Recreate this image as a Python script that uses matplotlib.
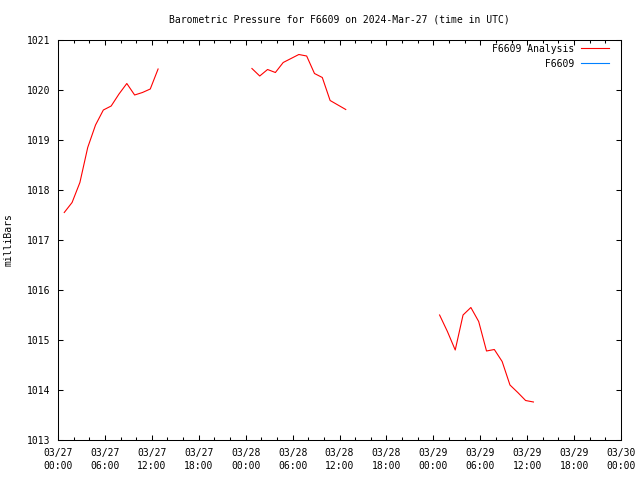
import matplotlib
matplotlib.use('Agg')
import matplotlib.pyplot as plt
import matplotlib.dates as mdates
import pandas as pd

# hourly observations, three blocks of data (gaps in between)
seg_starts = ['2024-03-27 00:48', '2024-03-28 00:48', '2024-03-29 00:48']
seg_pressure = [
    [1017.55, 1017.75, 1018.15, 1018.85, 1019.30, 1019.60, 1019.68,
     1019.92, 1020.13, 1019.90, 1019.95, 1020.02, 1020.42],
    [1020.43, 1020.28, 1020.41, 1020.35, 1020.55, 1020.63, 1020.71,
     1020.68, 1020.33, 1020.25, 1019.79, 1019.70, 1019.61],
    [1015.50, 1015.17, 1014.80, 1015.50, 1015.65, 1015.37, 1014.78,
     1014.81, 1014.57, 1014.10, 1013.95, 1013.79, 1013.76],
]

plt.rcParams['font.family'] = ['DejaVu Sans Mono']
plt.rcParams['font.size'] = 7

fig = plt.figure(figsize=(6.4, 4.8), dpi=100)
ax = fig.add_axes([58 / 640, 40 / 480, 563 / 640, 400 / 480])

for i, (start, p) in enumerate(zip(seg_starts, seg_pressure)):
    t = pd.date_range(start, periods=len(p), freq='h')
    ax.plot(t, p, color='red', lw=0.8,
            label='F6609 Analysis' if i == 0 else None)
ax.plot([], [], color='#0080ff', lw=0.8, label='         F6609')

ax.set_xlim(pd.Timestamp('2024-03-27'), pd.Timestamp('2024-03-30'))
ax.set_ylim(1013, 1021)
ax.set_yticks(range(1013, 1022))

ax.xaxis.set_major_locator(mdates.HourLocator(byhour=[0, 6, 12, 18]))
ax.xaxis.set_minor_locator(mdates.HourLocator(interval=2))
ax.xaxis.set_major_formatter(mdates.DateFormatter('%m/%d\n%H:%M'))

ax.tick_params(which='both', direction='in', top=True, right=True,
               width=0.75, labelsize=7)
ax.tick_params(which='major', length=3.5, pad=5.5)
ax.tick_params(which='minor', length=2)
for lab in ax.get_xticklabels():
    lab.set_linespacing(1.45)
for s in ax.spines.values():
    s.set_linewidth(0.75)

ax.set_ylabel('milliBars')
ax.yaxis.set_label_coords(-44 / 563, 0.5)

fig.text(339 / 640, 1 - 19 / 480,
         'Barometric Pressure for F6609 on 2024-Mar-27 (time in UTC)',
         ha='center', va='center')

ax.legend(loc='upper right', bbox_to_anchor=(1 - 8 / 563, 1),
          frameon=False, markerfirst=False,
          handlelength=2.9, handletextpad=0.7, labelspacing=0.5,
          borderaxespad=0.2, borderpad=0.2)

fig.savefig('out.png', dpi=100)
